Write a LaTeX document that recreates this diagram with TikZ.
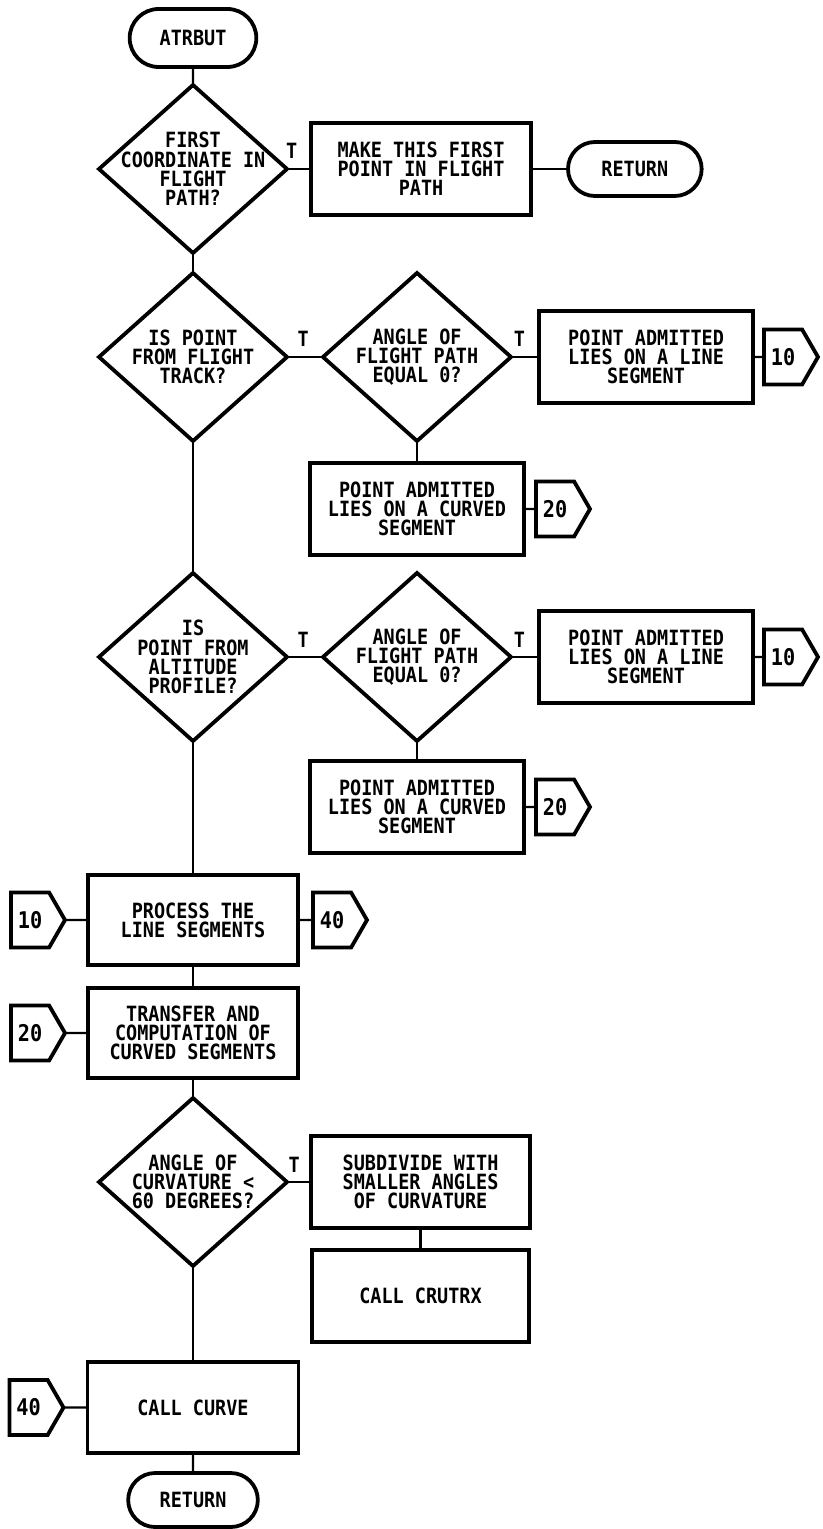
\documentclass[tikz,border=0pt]{standalone}
\usepackage{fontspec}
\usepackage{tikz}
\usetikzlibrary{positioning, shapes.geometric, shapes.misc, shapes.symbols}
\newfontfamily\plotfont[FakeStretch=0.88]{DejaVu Sans Mono}

\begin{document}
\begin{tikzpicture}[
  node distance=10pt and 12pt,
  every node/.style={font=\plotfont\bfseries\fontsize{10.5}{9.6}\selectfont, outer sep=0pt},
  term/.style={rounded rectangle, draw, line width=1.9pt, minimum width=71.5pt, minimum height=27pt},
  proc/.style={draw, line width=1.9pt, align=center, minimum width=107pt, minimum height=46pt},
  decide/.style={diamond, draw, line width=1.9pt, minimum width=94pt, minimum height=84pt, inner sep=0pt},
  conn/.style={signal, signal to=east, signal pointer angle=120, draw, line width=1.9pt,
    minimum width=27pt, minimum height=27.5pt, inner sep=1pt, font=\plotfont\bfseries\fontsize{11.5}{11}\selectfont},
  link/.style={line width=1.1pt},
  tlab/.style={above=4pt, inner sep=1pt}
]
\useasboundingbox (0,0) rectangle (411.5pt,-764.5pt);
\node[term, minimum width=70pt, minimum height=29pt] (start) at (96.5pt,-19pt) {ATRBUT};
\node[decide, below=9pt of start, label={[align=center]center:FIRST\\COORDINATE IN\\FLIGHT\\PATH?}] (first) {};
\node[proc, right=12pt of first, minimum width=110pt] (make) {MAKE THIS FIRST\\POINT IN FLIGHT\\PATH};
\node[term, right=18.5pt of make, minimum width=73.5pt] (ret1) {RETURN};

\node[decide, below=10pt of first, label={[align=center]center:IS POINT\\FROM FLIGHT\\TRACK?}] (track) {};
\node[decide, right=18pt of track, label={[align=center]center:ANGLE OF\\FLIGHT PATH\\EQUAL 0?}] (angA) {};
\node[proc, right=14pt of angA] (lineA) {POINT ADMITTED\\LIES ON A LINE\\SEGMENT};
\node[conn, right=5.5pt of lineA] (tenA) {10};
\node[proc, below=11pt of angA] (curvA) {POINT ADMITTED\\LIES ON A CURVED\\SEGMENT};
\node[conn, right=6pt of curvA] (twentyA) {20};

\node[decide, below=66pt of track, label={[align=center]center:IS\\POINT FROM\\ALTITUDE\\PROFILE?}] (alt) {};
\node[decide, right=18pt of alt, label={[align=center]center:ANGLE OF\\FLIGHT PATH\\EQUAL 0?}] (angB) {};
\node[proc, right=14pt of angB] (lineB) {POINT ADMITTED\\LIES ON A LINE\\SEGMENT};
\node[conn, right=5.5pt of lineB] (tenB) {10};
\node[proc, below=10pt of angB] (curvB) {POINT ADMITTED\\LIES ON A CURVED\\SEGMENT};
\node[conn, right=6pt of curvB] (twentyB) {20};

\node[proc, below=67pt of alt, minimum width=105pt, minimum height=45pt] (lines) {PROCESS THE\\LINE SEGMENTS};
\node[conn, left=11.5pt of lines] (tenC) {10};
\node[conn, right=7.5pt of lines] (fortyA) {40};
\node[proc, below=11.5pt of lines, minimum width=105pt, minimum height=45pt] (transfer) {TRANSFER AND\\COMPUTATION OF\\CURVED SEGMENTS};
\node[conn, left=11.5pt of transfer] (twentyC) {20};

\node[decide, below=10pt of transfer, label={[align=center]center:ANGLE OF\\CURVATURE <\\60 DEGREES?}] (curv) {};
\node[proc, right=12pt of curv, minimum width=109.5pt] (subdiv) {SUBDIVIDE WITH\\SMALLER ANGLES\\OF CURVATURE};
\node[proc, below=11pt of subdiv, minimum width=108.5pt] (crutrx) {CALL CRUTRX};
\node[proc, below=48pt of curv, minimum width=105.5pt, minimum height=45.5pt] (callcurve) {CALL CURVE};
\node[conn, left=12pt of callcurve] (fortyB) {40};
\node[term, below=10pt of callcurve] (ret2) {RETURN};

\draw[link] (start) -- (first);
\draw[link] (first) -- node[tlab, pos=0.2] {T} (make);
\draw[link] (make) -- (ret1);
\draw[link] (first) -- (track);
\draw[link] (track) -- node[tlab, pos=0.45] {T} (angA);
\draw[link] (angA) -- node[tlab, pos=0.3] {T} (lineA);
\draw[link] (lineA) -- (tenA);
\draw[link] (angA) -- (curvA);
\draw[link] (curvA) -- (twentyA);
\draw[link] (track) -- (alt);
\draw[link] (alt) -- node[tlab, pos=0.45] {T} (angB);
\draw[link] (angB) -- node[tlab, pos=0.3] {T} (lineB);
\draw[link] (lineB) -- (tenB);
\draw[link] (angB) -- (curvB);
\draw[link] (curvB) -- (twentyB);
\draw[link] (alt) -- (lines);
\draw[link] (tenC) -- (lines);
\draw[link] (lines) -- (fortyA);
\draw[link] (lines) -- (transfer);
\draw[link] (twentyC) -- (transfer);
\draw[link] (transfer) -- (curv);
\draw[link] (curv) -- node[tlab, pos=0.3] {T} (subdiv);
\draw[link] (subdiv) -- (crutrx);
\draw[link] (curv) -- (callcurve);
\draw[link] (fortyB) -- (callcurve);
\draw[link] (callcurve) -- (ret2);
\end{tikzpicture}
\end{document}
